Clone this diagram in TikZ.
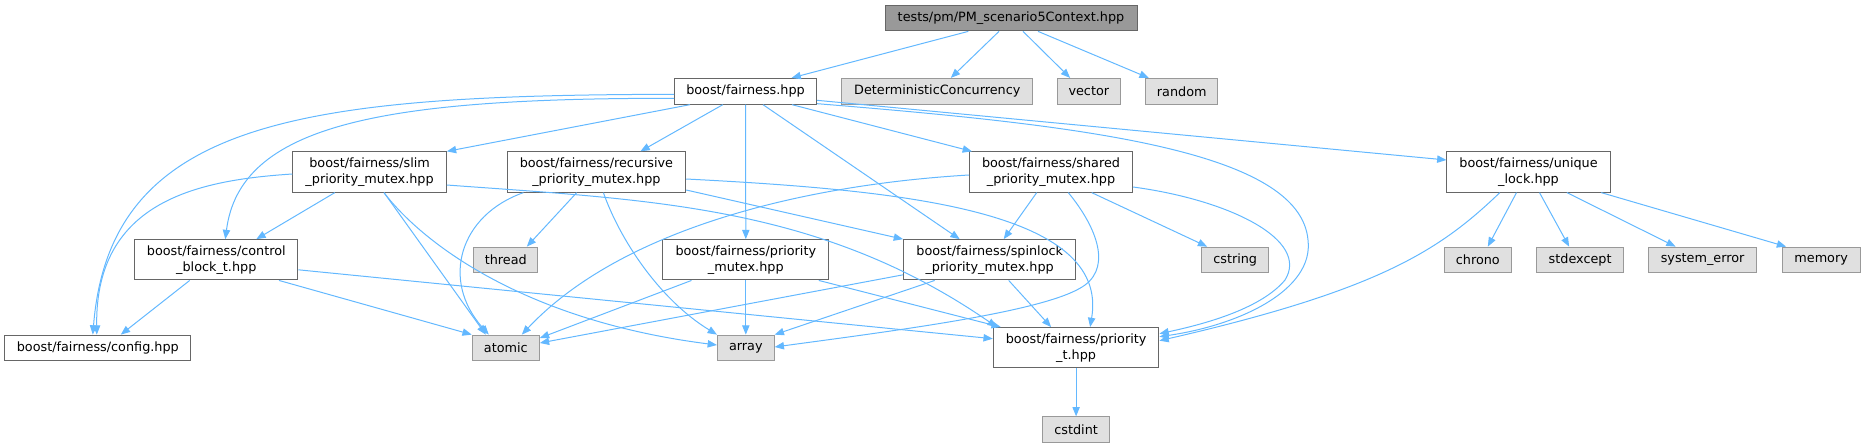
\documentclass[tikz,border=0pt]{standalone}
\usepackage{fontspec}
\setmainfont{DejaVu Sans}
\usepackage{xcolor}
\usepackage{tikz}
\usetikzlibrary{arrows.meta,positioning,calc}
\definecolor{edgeblue}{HTML}{63B8FF}
\definecolor{boxborder}{HTML}{666666}
\definecolor{extborder}{HTML}{999999}
\definecolor{extfill}{HTML}{E0E0E0}
\definecolor{rootfill}{HTML}{999999}
\tikzset{
  box/.style={rectangle, draw=boxborder, fill=white, line width=0.75pt,
              minimum width=#1, minimum height=19.3pt, inner sep=0pt,
              font=\fontsize{9.6}{12}\selectfont, text centered, align=center},
  ext/.style={box=#1, draw=extborder, fill=extfill},
  rootbox/.style={box=#1, fill=rootfill},
  tall/.style={minimum height=30.2pt},
  arr/.style={-{Triangle[length=7pt,width=5.5pt]}, line width=0.75pt, edgeblue},
}
\begin{document}
\begin{tikzpicture}[x=0.75pt,y=-0.75pt]
  \useasboundingbox (0,0) rectangle (1862,447);
  \node[rootbox=189pt] (ctx) at (1011,18) {tests/pm/PM\_scenario5Context.hpp};
  \node[box=106.5pt] (fair) at (745.5,91.3) {boost/fairness.hpp};
  \node[ext=143.3pt, right=18.2pt of fair] (det) {DeterministicConcurrency};
  \node[ext=47.5pt, right=17.5pt of det] (vector) {vector};
  \node[ext=54.2pt, right=18.1pt of vector] (random) {random};
  \node[box=115.1pt, tall] (slim) at (369.6,172) {boost/fairness/slim\\\_priority\_mutex.hpp};
  \node[box=134pt, tall] (recur) at (596.4,172) {boost/fairness/recursive\\\_priority\_mutex.hpp};
  \node[box=122.3pt, tall] (shared) at (1051,172) {boost/fairness/shared\\\_priority\_mutex.hpp};
  \node[box=122.3pt, tall] (unique) at (1528.5,172) {boost/fairness/unique\\\_lock.hpp};
  \node[box=122.3pt, tall] (ctrl) at (216.3,259.8) {boost/fairness/control\\\_block\_t.hpp};
  \node[ext=48.2pt] (thread) at (505.8,260) {thread};
  \node[box=124.3pt, tall] (pmutex) at (745.8,259.8) {boost/fairness/priority\\\_mutex.hpp};
  \node[box=129.2pt, tall] (spin) at (989.7,259.8) {boost/fairness/spinlock\\\_priority\_mutex.hpp};
  \node[ext=50.3pt] (cstring) at (1235.2,260) {cstring};
  \node[ext=50pt] (chrono) at (1477.8,260) {chrono};
  \node[ext=65.6pt, right=18.2pt of chrono] (stdexcept) {stdexcept};
  \node[ext=81.4pt, right=17.6pt of stdexcept] (syserr) {system\_error};
  \node[ext=58.5pt, right=18.2pt of syserr] (memory) {memory};
  \node[box=139.3pt] (config) at (97.8,348) {boost/fairness/config.hpp};
  \node[ext=50.3pt] (atomic) at (505.8,348) {atomic};
  \node[ext=42.5pt] (array) at (745.8,348) {array};
  \node[box=124.2pt, tall] (prio) at (1076.1,347.7) {boost/fairness/priority\\\_t.hpp};
  \node[ext=50.3pt, below=36pt of prio] (cstdint) {cstdint};

  \draw[arr] ($(ctx.south)+(-42.7,0)$) -- ($(fair.north)+(46,0)$);
  \draw[arr] ($(ctx.south)+(-12,0)$) -- ($(det.north)+(13.5,0)$);
  \draw[arr] ($(ctx.south)+(12,0)$) -- ($(vector.north)+(-18.7,0)$);
  \draw[arr] ($(ctx.south)+(27,0)$) -- ($(random.north)+(-33,0)$);

  \draw[arr] ($(fair.west)+(0,3)$) .. controls (300,95) and (110,120) .. ($(config.north)+(-5,0)$);
  \draw[arr] ($(fair.west)+(0,7)$) .. controls (380,98) and (240,125) .. ($(ctrl.north)+(9,0)$);
  \draw[arr] ($(fair.south)+(-55.5,0)$) -- (slim.north east);
  \draw[arr] ($(fair.south)+(-22.7,0)$) -- ($(recur.north)+(44,0)$);
  \draw[arr] (fair.south) -- (pmutex.north);
  \draw[arr] ($(fair.south)+(17.5,0)$) -- ($(spin.north)+(-30,0)$);
  \draw[arr] ($(fair.south)+(46.5,0)$) -- ($(shared.north west)+(3,0)$);
  \draw[arr] ($(fair.south east)+(0,-1)$) .. controls (1080,125) and (1300,150) .. (1308,240)
             .. controls (1314,290) and (1240,325) .. ($(prio.east)+(0,-11)$);
  \draw[arr] ($(fair.east)+(0,9)$) -- ($(unique.west)+(0,-12)$);

  \draw[arr] ($(slim.west)+(0,2)$) .. controls (200,180) and (95,200) .. ($(config.north)+(-1,0)$);
  \draw[arr] ($(slim.south)+(-34.8,0)$) -- ($(ctrl.north)+(40,0)$);
  \draw[arr] ($(slim.south)+(14.4,0)$) -- ($(atomic.north)+(-20,0)$);
  \draw[arr] ($(slim.south)+(14.4,0)$) .. controls (420,240) and (520,320) .. ($(array.west)+(0,-3)$);
  \draw[arr] ($(slim.east)+(0,13)$) .. controls (650,200) and (820,205) .. ($(prio.north west)+(4,0)$);

  \draw[arr] ($(recur.south)+(-73,0)$) .. controls (460,215) and (440,280) .. ($(atomic.north)+(-17,0)$);
  \draw[arr] ($(recur.south)+(-19.7,0)$) -- ($(thread.north)+(21,0)$);
  \draw[arr] ($(recur.south)+(7,0)$) .. controls (620,240) and (660,300) .. (array.north west);
  \draw[arr] ($(recur.east)+(0,18)$) -- (spin.north west);
  \draw[arr] ($(recur.east)+(0,7)$) .. controls (900,190) and (1110,210) .. ($(prio.north)+(14,0)$);

  \draw[arr] ($(shared.west)+(0,3)$) .. controls (800,185) and (620,230) .. ($(atomic.north)+(16,0)$);
  \draw[arr] ($(shared.south)+(-14.3,0)$) -- ($(spin.north)+(14,0)$);
  \draw[arr] ($(shared.south)+(17.3,0)$) .. controls (1095,225) and (1112,265) .. (1085,285)
             .. controls (1050,311) and (900,330) .. ($(array.east)+(0,-1)$);
  \draw[arr] ($(shared.south)+(40.7,0)$) -- ($(cstring.north)+(-28,0)$);
  \draw[arr] ($(shared.east)+(0,15)$) .. controls (1230,200) and (1310,240) .. (1285,280)
             .. controls (1260,310) and (1200,325) .. ($(prio.east)+(0,-14)$);

  \draw[arr] ($(unique.south)+(-28.7,0)$) .. controls (1440,250) and (1380,290) .. ($(prio.east)+(0,-7)$);
  \draw[arr] ($(unique.south)+(-12,0)$) -- ($(chrono.north)+(10,0)$);
  \draw[arr] ($(unique.south)+(11,0)$) -- ($(stdexcept.north)+(-11,0)$);
  \draw[arr] ($(unique.south)+(38.4,0)$) -- ($(syserr.north)+(-27,0)$);
  \draw[arr] ($(unique.south)+(72.8,0)$) -- ($(memory.north)+(-35,0)$);

  \draw[arr] ($(ctrl.south)+(-26.6,0)$) -- ($(config.north)+(23,0)$);
  \draw[arr] ($(ctrl.south)+(62.7,0)$) -- (atomic.north west);
  \draw[arr] ($(ctrl.east)+(0,10)$) -- ($(prio.west)+(0,-9)$);

  \draw[arr] ($(pmutex.south)+(-54.3,0)$) -- ($(atomic.east)+(0,-10)$);
  \draw[arr] (pmutex.south) -- (array.north);
  \draw[arr] ($(pmutex.south)+(73,0)$) -- ($(prio.north west)+(8,0)$);

  \draw[arr] ($(spin.west)+(0,15)$) -- ($(atomic.east)+(0,-5)$);
  \draw[arr] ($(spin.south)+(-55,0)$) -- (array.north east);
  \draw[arr] ($(spin.south)+(19,0)$) -- ($(prio.north)+(-25,0)$);

  \draw[arr] (prio.south) -- (cstdint.north);
\end{tikzpicture}
\end{document}
